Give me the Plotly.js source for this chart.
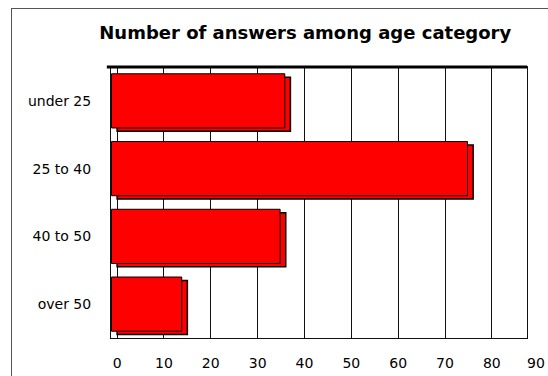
<!DOCTYPE html>
<html>
<head>
<meta charset="utf-8">
<script src="https://cdn.plot.ly/plotly-3.0.1.min.js"></script>
<style>
  html, body { margin:0; padding:0; background:#fff; }
  #chart { width:548px; height:376px; position:absolute; left:0; top:0; }
  #frame { position:absolute; left:11px; top:8px; width:560px; height:400px; border:1.5px solid #555; pointer-events:none; }
</style>
</head>
<body>
<div id="chart"></div>
<div id="frame"></div>
<script>
const categories = ["under 25", "25 to 40", "40 to 50", "over 50"];
const answers = [37, 76, 36, 15];
const tickValues = [0, 10, 20, 30, 40, 50, 60, 70, 80];
const tickLabels = ["0", "10", "20", "30", "40", "50", "60", "70", "80"];
const extraTick = 90;

const xRange = [-1.3, 87.5];
const depthShift = 1.2;

const depth = {
  type: 'bar', orientation: 'h',
  y: categories, x: answers,
  xaxis: 'x', yaxis: 'y',
  width: 0.8, offset: -0.35,
  marker: { color: '#ff0000', line: { color: '#000', width: 1.5 } },
  hoverinfo: 'skip', showlegend: false
};
const front = {
  type: 'bar', orientation: 'h',
  y: categories, x: answers,
  xaxis: 'x2', yaxis: 'y',
  width: 0.8, offset: -0.4,
  marker: { color: '#ff0000', line: { color: '#000', width: 1 } },
  showlegend: false
};

const tickFont = { family: 'DejaVu Sans, sans-serif', size: 14, color: '#000' };

const layout = {
  width: 548, height: 376,
  margin: { l: 111, r: 21, t: 67, b: 38 },
  paper_bgcolor: '#fff', plot_bgcolor: '#fff',
  barmode: 'overlay',
  title: {
    text: '<b>Number of answers among age category</b>',
    font: { family: 'DejaVu Sans, sans-serif', size: 18, color: '#000' },
    x: 0.557, xanchor: 'center', y: 0.912, yanchor: 'middle'
  },
  xaxis: {
    range: xRange,
    tickvals: tickValues, ticktext: tickLabels,
    showgrid: true, gridcolor: '#111', gridwidth: 1,
    zeroline: false,
    showline: true, linecolor: '#111', linewidth: 1, mirror: true,
    ticks: '', ticklen: 0,
    tickfont: tickFont,
    ticklabelstandoff: 12,
    fixedrange: true
  },
  xaxis2: {
    range: [xRange[0] + depthShift, xRange[1] + depthShift],
    overlaying: 'x', visible: false, fixedrange: true
  },
  yaxis: {
    autorange: 'reversed',
    showgrid: false, zeroline: false,
    showline: true, linecolor: '#111', linewidth: 1, mirror: true,
    ticks: '', ticklen: 0,
    tickfont: tickFont,
    ticklabelstandoff: 16,
    fixedrange: true
  },
  shapes: [
    { type: 'line', xref: 'paper', yref: 'paper', x0: -0.01, x1: 1, y0: 1, y1: 1,
      line: { color: '#000', width: 3 } }
  ],
  annotations: [
    { x: 1, xref: 'paper', xanchor: 'right', xshift: 20,
      y: 0, yref: 'paper', yanchor: 'top', yshift: -15,
      text: String(extraTick), showarrow: false,
      font: tickFont }
  ]
};

Plotly.newPlot('chart', [depth, front], layout, { staticPlot: true, displayModeBar: false });
</script>
</body>
</html>
